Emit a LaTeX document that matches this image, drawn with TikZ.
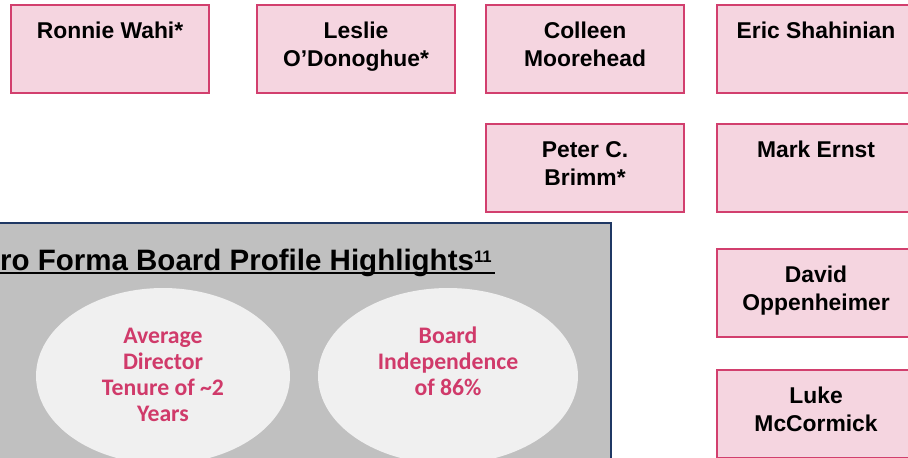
\documentclass[tikz,border=0pt]{standalone}
\usepackage{fontspec}
\setmainfont{Liberation Sans}
\newfontfamily\narrowfont{Carlito}
\usetikzlibrary{shapes.geometric}

\definecolor{boxfill}{RGB}{245,213,224}
\definecolor{boxline}{RGB}{210,63,110}
\definecolor{panelfill}{RGB}{192,192,192}
\definecolor{panelline}{RGB}{31,56,100}
\definecolor{ovalfill}{RGB}{240,240,240}
\definecolor{ovalink}{RGB}{208,58,106}

% text of a director box, set from the top
\newcommand{\dirname}[1]{\parbox[c][1.76cm][t]{3.96cm}{\centering\rule{0pt}{0.67cm}#1}}
% text of a highlight oval, set from the top
\newcommand{\highlight}[1]{\parbox[c][2cm][t]{3.2cm}{\centering\rule{0pt}{0.35cm}#1}}

\tikzset{
  director/.style={draw=boxline, fill=boxfill, line width=1.2pt, inner sep=0pt,
    anchor=north west, font=\bfseries\fontsize{13}{15.9}\selectfont},
  oval/.style={ellipse, fill=ovalfill, inner sep=0pt, minimum height=3.52cm,
    text=ovalink, font=\narrowfont\bfseries\fontsize{13.5}{14.7}\selectfont},
  panel/.style={draw=panelline, fill=panelfill, line width=1.2pt}
}

\begin{document}
\begin{tikzpicture}[x=0.02cm,y=-0.02cm]
    \useasboundingbox (0,0) rectangle (908,457);
    \clip (0,0) rectangle (908,457);

    % board members
    \node[director] (wahi) at (10,4) {\dirname{Ronnie Wahi*}};
    \node[director] (odonoghue) at (256,4) {\dirname{Leslie\\O’Donoghue*}};
    \node[director] (moorehead) at (485,4) {\dirname{Colleen\\Moorehead}};
    \node[director] (shahinian) at (716,4) {\dirname{Eric Shahinian}};
    \node[director] (brimm) at (485,123) {\dirname{Peter C.\\Brimm*}};
    \node[director] (ernst) at (716,123) {\dirname{Mark Ernst}};
    \node[director] (oppenheimer) at (716,248) {\dirname{David\\Oppenheimer}};
    \node[director] (mccormick) at (716,369) {\dirname{Luke\\McCormick}};

    % highlights panel
    \draw[panel] (-10,223) rectangle (611,475);
    \node[anchor=base east, inner sep=0pt, font=\bfseries\fontsize{16.8}{20}\selectfont]
        (title) at (492,270) {Pro Forma Board Profile Highlights\raisebox{4.5pt}{\fontsize{9.5}{9.5}\selectfont 11}};
    \draw[line width=1.1pt] ([yshift=-0.06cm]title.base west) -- ([yshift=-0.06cm,xshift=0.06cm]title.base east);

    \node[oval, minimum width=5.08cm] (tenure) at (163,376)
        {\highlight{Average\\Director\\Tenure of \textasciitilde2\\Years}};
    \node[oval, minimum width=5.2cm] (independence) at (448,376)
        {\highlight{Board\\Independence\\of 86\%}};
\end{tikzpicture}
\end{document}
